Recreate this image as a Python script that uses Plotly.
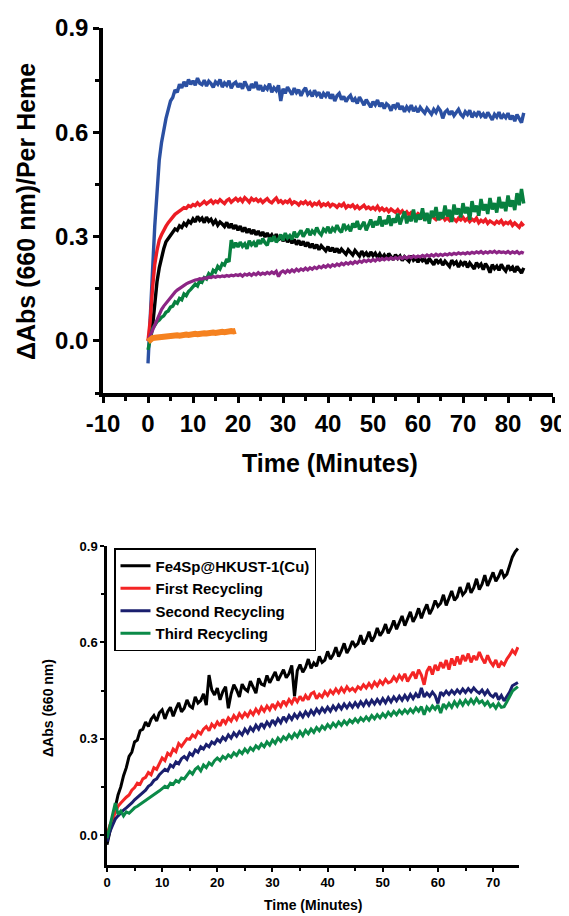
import plotly.graph_objects as go

# ---------------------------------------------------------------------------
# data read off the figure (sampled every 0.5 min)
# ---------------------------------------------------------------------------

STEP = 0.5

# top panel: dAbs (660 nm) per heme
top_blue = [
    -0.065, 0.05, 0.20, 0.33, 0.44, 0.52, 0.57, 0.61, 0.64, 0.665,
    0.69, 0.70, 0.722, 0.715, 0.738, 0.728, 0.745, 0.732, 0.752, 0.738,
    0.748, 0.735, 0.756, 0.741, 0.737, 0.75, 0.733, 0.747, 0.74, 0.729,
    0.745, 0.738, 0.752, 0.73, 0.742, 0.735, 0.748, 0.727, 0.739, 0.744,
    0.73, 0.741, 0.725, 0.746, 0.733, 0.72, 0.739, 0.728, 0.745, 0.722,
    0.735, 0.718, 0.731, 0.724, 0.74, 0.715, 0.728, 0.72, 0.735, 0.69,
    0.725, 0.712, 0.73, 0.718, 0.708, 0.727, 0.714, 0.722, 0.705, 0.719,
    0.728, 0.709, 0.716, 0.703, 0.721, 0.707, 0.715, 0.698, 0.712, 0.704,
    0.716, 0.697, 0.709, 0.69, 0.705, 0.712, 0.694, 0.703, 0.688, 0.699,
    0.706, 0.689, 0.697, 0.683, 0.701, 0.69, 0.678, 0.694, 0.684, 0.672,
    0.688, 0.679, 0.693, 0.674, 0.685, 0.668, 0.682, 0.676, 0.662, 0.679,
    0.671, 0.684, 0.666, 0.675, 0.659, 0.673, 0.664, 0.678, 0.661, 0.67,
    0.658, 0.672, 0.663, 0.655, 0.669, 0.66, 0.652, 0.666, 0.657, 0.671,
    0.662, 0.64, 0.658, 0.664, 0.651, 0.661, 0.648, 0.657, 0.666, 0.652,
    0.645, 0.659, 0.651, 0.663, 0.643, 0.655, 0.648, 0.66, 0.646, 0.653,
    0.641, 0.657, 0.647, 0.636, 0.652, 0.644, 0.658, 0.639, 0.65, 0.642,
    0.655, 0.637, 0.648, 0.632, 0.651, 0.64, 0.628, 0.656,
]
top_red = [
    0.0, 0.06, 0.15, 0.22, 0.26, 0.29, 0.305, 0.32, 0.33, 0.34,
    0.35, 0.356, 0.364, 0.368, 0.374, 0.378, 0.383, 0.381, 0.389, 0.386,
    0.392, 0.389, 0.397, 0.39, 0.395, 0.401, 0.394, 0.399, 0.404, 0.396,
    0.402, 0.398, 0.406, 0.4, 0.395, 0.404, 0.408, 0.399, 0.405, 0.41,
    0.403, 0.409, 0.401, 0.412, 0.406, 0.399, 0.41, 0.404, 0.408, 0.401,
    0.406, 0.398, 0.404, 0.409, 0.401, 0.397, 0.405, 0.411, 0.399, 0.403,
    0.396, 0.402, 0.398, 0.405, 0.394, 0.4, 0.397, 0.391, 0.399, 0.395,
    0.401, 0.393, 0.398, 0.389, 0.396, 0.392, 0.399, 0.388, 0.394, 0.39,
    0.396, 0.387, 0.393, 0.39, 0.384, 0.392, 0.388, 0.395, 0.383, 0.389,
    0.386, 0.391, 0.382, 0.388, 0.38, 0.386, 0.39, 0.381, 0.385, 0.379,
    0.384, 0.378, 0.387, 0.376, 0.382, 0.375, 0.38, 0.372, 0.379, 0.374,
    0.37, 0.377, 0.368, 0.374, 0.365, 0.371, 0.362, 0.369, 0.364, 0.358,
    0.366, 0.36, 0.356, 0.363, 0.357, 0.352, 0.36, 0.355, 0.349, 0.357,
    0.352, 0.358, 0.348, 0.354, 0.347, 0.356, 0.351, 0.344, 0.353, 0.348,
    0.355, 0.346, 0.352, 0.343, 0.35, 0.345, 0.353, 0.34, 0.347, 0.342,
    0.349, 0.338, 0.345, 0.34, 0.336, 0.344, 0.339, 0.346, 0.335, 0.341,
    0.337, 0.343, 0.332, 0.339, 0.334, 0.327, 0.338, 0.331,
]
top_black = [
    0.0, 0.01, 0.04, 0.11, 0.17, 0.21, 0.24, 0.265, 0.285, 0.295,
    0.305, 0.312, 0.322, 0.318, 0.331, 0.326, 0.338, 0.332, 0.345, 0.339,
    0.351, 0.342, 0.358, 0.347, 0.353, 0.34, 0.356, 0.344, 0.35, 0.337,
    0.346, 0.333, 0.342, 0.336, 0.329, 0.341, 0.325, 0.337, 0.322, 0.333,
    0.318, 0.33, 0.314, 0.326, 0.311, 0.322, 0.308, 0.319, 0.305, 0.316,
    0.302, 0.313, 0.299, 0.31, 0.297, 0.305, 0.293, 0.307, 0.29, 0.301,
    0.287, 0.298, 0.284, 0.294, 0.281, 0.292, 0.277, 0.289, 0.275, 0.286,
    0.272, 0.283, 0.268, 0.279, 0.266, 0.277, 0.262, 0.274, 0.265, 0.259,
    0.271, 0.258, 0.268, 0.255, 0.266, 0.253, 0.264, 0.257, 0.249, 0.262,
    0.254, 0.247, 0.26, 0.251, 0.244, 0.258, 0.246, 0.253, 0.242, 0.256,
    0.245, 0.252, 0.24, 0.25, 0.238, 0.247, 0.236, 0.251, 0.24, 0.233,
    0.248, 0.237, 0.244, 0.231, 0.242, 0.235, 0.229, 0.245, 0.232, 0.238,
    0.226, 0.24, 0.23, 0.235, 0.222, 0.237, 0.228, 0.219, 0.234, 0.225,
    0.231, 0.218, 0.229, 0.223, 0.214, 0.232, 0.221, 0.227, 0.212, 0.226,
    0.219, 0.228, 0.211, 0.224, 0.216, 0.207, 0.225, 0.214, 0.221, 0.205,
    0.222, 0.212, 0.196, 0.219, 0.208, 0.215, 0.203, 0.22, 0.209, 0.201,
    0.217, 0.206, 0.212, 0.198, 0.214, 0.203, 0.195, 0.21,
]
top_green = [
    -0.026, 0.01, 0.035, 0.045, 0.055, 0.06, 0.068, 0.072, 0.082, 0.086,
    0.097, 0.1, 0.112, 0.108, 0.122, 0.118, 0.135, 0.13, 0.142, 0.148,
    0.155, 0.163, 0.158, 0.174, 0.169, 0.182, 0.178, 0.193, 0.186, 0.203,
    0.198, 0.214, 0.207, 0.222, 0.218, 0.235, 0.227, 0.29, 0.268, 0.282,
    0.27, 0.284, 0.272, 0.279, 0.265, 0.288, 0.276, 0.283, 0.271, 0.29,
    0.279, 0.294, 0.282, 0.275, 0.297, 0.286, 0.301, 0.284, 0.292, 0.306,
    0.289, 0.31, 0.296, 0.303, 0.292, 0.314, 0.298, 0.307, 0.318, 0.3,
    0.311, 0.322, 0.304, 0.316, 0.309, 0.326, 0.312, 0.305, 0.321, 0.315,
    0.328, 0.31, 0.324, 0.317, 0.333, 0.319, 0.312, 0.336, 0.322, 0.329,
    0.315, 0.338, 0.326, 0.345, 0.321, 0.333, 0.342, 0.318, 0.337, 0.349,
    0.326, 0.344, 0.333, 0.358, 0.329, 0.347, 0.336, 0.361, 0.331, 0.352,
    0.34, 0.366, 0.335, 0.355, 0.372, 0.338, 0.359, 0.344, 0.378, 0.341,
    0.363, 0.349, 0.381, 0.345, 0.368, 0.337, 0.374, 0.356, 0.385, 0.347,
    0.37, 0.352, 0.389, 0.358, 0.377, 0.342, 0.392, 0.364, 0.381, 0.355,
    0.396, 0.367, 0.385, 0.348, 0.402, 0.371, 0.389, 0.36, 0.408, 0.375,
    0.393, 0.365, 0.411, 0.378, 0.396, 0.369, 0.414, 0.382, 0.399, 0.373,
    0.418, 0.386, 0.404, 0.376, 0.425, 0.39, 0.437, 0.395,
]
top_purple = [
    0.0, 0.015, 0.035, 0.05, 0.065, 0.078, 0.09, 0.1, 0.108, 0.118,
    0.126, 0.133, 0.14, 0.146, 0.151, 0.156, 0.16, 0.164, 0.167, 0.17,
    0.172, 0.175, 0.176, 0.179, 0.178, 0.181, 0.18, 0.183, 0.182, 0.185,
    0.183, 0.186, 0.184, 0.187, 0.185, 0.188, 0.186, 0.189, 0.187, 0.19,
    0.188, 0.191, 0.186, 0.192, 0.189, 0.193, 0.188, 0.194, 0.19, 0.196,
    0.191, 0.195, 0.192, 0.197, 0.193, 0.198, 0.194, 0.2, 0.185, 0.197,
    0.201, 0.196, 0.203, 0.198, 0.204, 0.199, 0.206, 0.201, 0.207, 0.203,
    0.209, 0.204, 0.21, 0.206, 0.212, 0.208, 0.214, 0.21, 0.216, 0.212,
    0.218, 0.213, 0.219, 0.215, 0.221, 0.217, 0.223, 0.219, 0.225, 0.221,
    0.226, 0.222, 0.228, 0.224, 0.23, 0.226, 0.232, 0.228, 0.233, 0.229,
    0.234, 0.23, 0.236, 0.232, 0.237, 0.233, 0.238, 0.234, 0.239, 0.235,
    0.24, 0.236, 0.241, 0.237, 0.242, 0.238, 0.243, 0.239, 0.244, 0.24,
    0.244, 0.241, 0.246, 0.242, 0.247, 0.243, 0.248, 0.244, 0.249, 0.245,
    0.249, 0.246, 0.25, 0.247, 0.251, 0.248, 0.252, 0.249, 0.253, 0.25,
    0.253, 0.25, 0.254, 0.251, 0.255, 0.252, 0.256, 0.253, 0.257, 0.252,
    0.256, 0.253, 0.257, 0.254, 0.258, 0.253, 0.257, 0.254, 0.256, 0.253,
    0.257, 0.252, 0.256, 0.253, 0.257, 0.251, 0.255, 0.252,
]
top_orange = [
    -0.002, 0.005, 0.008, 0.009, 0.01, 0.011, 0.01, 0.012, 0.013, 0.012,
    0.014, 0.013, 0.015, 0.016, 0.015, 0.017, 0.016, 0.018, 0.017, 0.019,
    0.018, 0.02, 0.019, 0.021, 0.02, 0.022, 0.021, 0.023, 0.022, 0.024,
    0.023, 0.025, 0.024, 0.026, 0.025, 0.027, 0.026, 0.028, 0.027, 0.029,
]

# bottom panel: dAbs (660 nm), catalyst recycling
bot_names = ["Fe4Sp@HKUST-1(Cu)", "First Recycling", "Second Recycling", "Third Recycling"]
bot_fresh = [
    -0.03, 0.01, 0.05, 0.085, 0.125, 0.15, 0.185, 0.21, 0.245, 0.258,
    0.29, 0.296, 0.325, 0.33, 0.352, 0.338, 0.361, 0.372, 0.355, 0.381,
    0.39, 0.362, 0.384, 0.398, 0.37, 0.393, 0.412, 0.384, 0.395, 0.421,
    0.402, 0.396, 0.43, 0.411, 0.419, 0.44, 0.405, 0.498, 0.452, 0.436,
    0.458, 0.421, 0.447, 0.462, 0.395, 0.44, 0.468, 0.452, 0.43, 0.47,
    0.455, 0.448, 0.479, 0.461, 0.442, 0.488, 0.47, 0.466, 0.497, 0.474,
    0.49, 0.508, 0.481, 0.497, 0.515, 0.49, 0.503, 0.528, 0.432, 0.512,
    0.531, 0.507, 0.522, 0.548, 0.519, 0.536, 0.526, 0.556, 0.538, 0.545,
    0.572, 0.548, 0.561, 0.585, 0.556, 0.574, 0.597, 0.567, 0.582, 0.604,
    0.588, 0.596, 0.622, 0.594, 0.609, 0.633, 0.603, 0.618, 0.645, 0.621,
    0.634, 0.657, 0.628, 0.645, 0.668, 0.641, 0.66, 0.682, 0.652, 0.671,
    0.695, 0.664, 0.681, 0.706, 0.675, 0.699, 0.718, 0.688, 0.705, 0.73,
    0.712, 0.722, 0.748, 0.715, 0.737, 0.76, 0.731, 0.742, 0.772, 0.748,
    0.758, 0.785, 0.754, 0.77, 0.798, 0.764, 0.781, 0.809, 0.776, 0.795,
    0.818, 0.79, 0.805, 0.826, 0.803, 0.812, 0.842, 0.866, 0.882, 0.892,
]
bot_first = [
    0.0, 0.03, 0.05, 0.07, 0.09, 0.1, 0.11, 0.118, 0.125, 0.14,
    0.148, 0.162, 0.158, 0.175, 0.18, 0.195, 0.188, 0.21, 0.205, 0.225,
    0.24, 0.232, 0.255, 0.248, 0.268, 0.26, 0.285, 0.276, 0.29, 0.3,
    0.298, 0.312, 0.305, 0.322, 0.315, 0.33, 0.338, 0.325, 0.345, 0.336,
    0.352, 0.34, 0.36, 0.348, 0.365, 0.355, 0.372, 0.36, 0.378, 0.366,
    0.38, 0.37, 0.386, 0.375, 0.392, 0.38, 0.398, 0.386, 0.402, 0.39,
    0.408, 0.395, 0.412, 0.4, 0.418, 0.405, 0.422, 0.41, 0.428, 0.415,
    0.432, 0.418, 0.435, 0.422, 0.44, 0.445, 0.425, 0.438, 0.43, 0.446,
    0.435, 0.45, 0.44, 0.455, 0.443, 0.458, 0.446, 0.462, 0.45, 0.457,
    0.448, 0.462, 0.455, 0.468, 0.458, 0.472, 0.46, 0.476, 0.465, 0.48,
    0.47, 0.485, 0.474, 0.478, 0.492, 0.48, 0.497, 0.485, 0.502, 0.478,
    0.494, 0.508, 0.487, 0.515, 0.498, 0.468, 0.51, 0.525, 0.5, 0.53,
    0.512, 0.538, 0.52, 0.545, 0.515, 0.55, 0.528, 0.556, 0.532, 0.56,
    0.542, 0.565, 0.538, 0.558, 0.545, 0.57, 0.55, 0.535, 0.56, 0.54,
    0.528, 0.545, 0.522, 0.538, 0.53, 0.548, 0.56, 0.575, 0.565, 0.585,
]
bot_second = [
    -0.02, 0.01, 0.03, 0.05, 0.06, 0.07, 0.078, 0.085, 0.092, 0.1,
    0.11, 0.118, 0.125, 0.135, 0.14, 0.152, 0.158, 0.17, 0.175, 0.188,
    0.195, 0.205, 0.2, 0.218, 0.212, 0.228, 0.222, 0.238, 0.245, 0.236,
    0.255, 0.248, 0.265, 0.258, 0.275, 0.268, 0.282, 0.275, 0.29, 0.284,
    0.298, 0.29, 0.305, 0.296, 0.312, 0.302, 0.318, 0.308, 0.322, 0.312,
    0.33, 0.318, 0.335, 0.325, 0.342, 0.33, 0.348, 0.335, 0.352, 0.34,
    0.358, 0.345, 0.362, 0.35, 0.368, 0.355, 0.372, 0.36, 0.376, 0.365,
    0.38, 0.368, 0.384, 0.372, 0.388, 0.376, 0.392, 0.38, 0.395, 0.384,
    0.398, 0.386, 0.402, 0.39, 0.405, 0.393, 0.408, 0.396, 0.41, 0.398,
    0.412, 0.4, 0.415, 0.403, 0.418, 0.405, 0.42, 0.408, 0.422, 0.41,
    0.425, 0.412, 0.428, 0.415, 0.43, 0.418, 0.432, 0.42, 0.435, 0.422,
    0.438, 0.425, 0.44, 0.428, 0.458, 0.43, 0.442, 0.432, 0.445, 0.434,
    0.41, 0.445, 0.436, 0.448, 0.438, 0.45, 0.44, 0.452, 0.442, 0.455,
    0.444, 0.456, 0.446, 0.458, 0.448, 0.442, 0.452, 0.438, 0.45, 0.436,
    0.43, 0.442, 0.422, 0.435, 0.418, 0.432, 0.445, 0.465, 0.47, 0.475,
]
bot_third = [
    -0.01, 0.03, 0.06, 0.1, 0.065, 0.075, 0.06, 0.072, 0.068, 0.078,
    0.085, 0.09, 0.096, 0.1, 0.108, 0.112, 0.118, 0.125, 0.13, 0.138,
    0.145, 0.152, 0.148, 0.162, 0.158, 0.17, 0.165, 0.178, 0.175, 0.186,
    0.198, 0.19, 0.205, 0.212, 0.2, 0.218, 0.21, 0.225, 0.218, 0.232,
    0.24, 0.232, 0.245, 0.238, 0.25, 0.243, 0.256, 0.248, 0.262, 0.254,
    0.268, 0.258, 0.272, 0.264, 0.278, 0.27, 0.284, 0.275, 0.29, 0.28,
    0.296, 0.286, 0.302, 0.292, 0.306, 0.298, 0.312, 0.302, 0.316, 0.306,
    0.322, 0.31, 0.326, 0.316, 0.33, 0.32, 0.335, 0.325, 0.339, 0.33,
    0.344, 0.334, 0.348, 0.338, 0.352, 0.342, 0.355, 0.345, 0.358, 0.35,
    0.362, 0.352, 0.365, 0.356, 0.368, 0.358, 0.372, 0.362, 0.375, 0.365,
    0.378, 0.368, 0.382, 0.372, 0.385, 0.375, 0.388, 0.378, 0.39, 0.38,
    0.392, 0.382, 0.396, 0.386, 0.4, 0.375, 0.398, 0.388, 0.402, 0.392,
    0.405, 0.38, 0.408, 0.396, 0.41, 0.398, 0.415, 0.402, 0.418, 0.405,
    0.42, 0.408, 0.422, 0.41, 0.425, 0.412, 0.418, 0.405, 0.415, 0.4,
    0.408, 0.395, 0.41, 0.398, 0.4, 0.415, 0.43, 0.448, 0.455, 0.462,
]

# ---------------------------------------------------------------------------

FONT = "Liberation Sans"
PAGE_PAD = 8  # the html body adds an 8px margin, so the figure is shrunk by that
W, H = 569 - PAGE_PAD, 916 - PAGE_PAD


def px_x(p):
    # screen pixel -> paper fraction
    return (p - PAGE_PAD) / W


def px_y(p):
    return 1 - (p - PAGE_PAD) / H


def times(values):
    return [i * STEP for i in range(len(values))]


fig = go.Figure()

# TOP PANEL
top_series = [
    (top_blue, "#2b50a2", 3.4),
    (top_black, "#000000", 3.4),
    (top_red, "#ec1c24", 3.4),
    (top_green, "#07803f", 3.4),
    (top_purple, "#8c2585", 3.2),
    (top_orange, "#f58220", 6),
]
for vals, color, width in top_series:
    fig.add_trace(go.Scatter(
        x=times(vals), y=vals, mode="lines",
        line=dict(color=color, width=width),
        showlegend=False, xaxis="x", yaxis="y",
    ))

# BOTTOM PANEL
bot_colors = ["#000000", "#f42525", "#1a1f6e", "#0b8a48"]
for name, vals, color in zip(bot_names, [bot_fresh, bot_first, bot_second, bot_third], bot_colors):
    fig.add_trace(go.Scatter(
        x=times(vals), y=vals, mode="lines", name=name,
        line=dict(color=color, width=3),
        xaxis="x2", yaxis="y2",
    ))

big_tick = dict(family=FONT, size=24, color="black", weight="bold")
small_tick = dict(family=FONT, size=13, color="black", weight="bold")
top_x_ticks = list(range(-10, 91, 10))
y_ticks = [0.0, 0.3, 0.6, 0.9]

fig.update_layout(
    width=W, height=H, autosize=False,
    margin=dict(l=0, r=0, t=0, b=0, autoexpand=False),
    paper_bgcolor="white", plot_bgcolor="white",
    showlegend=True,
    # top panel axes
    xaxis=dict(
        domain=[px_x(103), px_x(553)], range=[-10, 90], automargin=False,
        tickmode="array", tickvals=top_x_ticks, ticktext=[str(v) for v in top_x_ticks],
        ticklabeloverflow="allow",
        showline=True, linecolor="black", linewidth=3.5,
        ticks="outside", ticklen=6, tickwidth=3, tickcolor="black",
        minor=dict(dtick=5, tick0=0, ticks="outside", ticklen=4, tickwidth=3, tickcolor="black"),
        tickfont=big_tick, showgrid=False, zeroline=False, anchor="y",
    ),
    yaxis=dict(
        domain=[px_y(393), px_y(28)], range=[-0.15, 0.9], automargin=False,
        tickmode="array", tickvals=y_ticks, ticktext=["%.1f" % v for v in y_ticks],
        showline=True, linecolor="black", linewidth=3.5,
        ticks="outside", ticklen=6, tickwidth=3, tickcolor="black",
        minor=dict(dtick=0.15, tick0=0, ticks="outside", ticklen=4, tickwidth=3, tickcolor="black"),
        tickfont=big_tick, showgrid=False, zeroline=False, anchor="x",
    ),
    # bottom panel axes
    xaxis2=dict(
        domain=[px_x(107), px_x(519)], range=[0, 74.7], automargin=False,
        tickmode="array", tickvals=list(range(0, 71, 10)),
        showline=True, linecolor="black", linewidth=2.5,
        ticks="outside", ticklen=4, tickwidth=2, tickcolor="black",
        minor=dict(dtick=5, tick0=0, ticks="outside", ticklen=3, tickwidth=2, tickcolor="black"),
        tickfont=small_tick, showgrid=False, zeroline=False, anchor="y2",
    ),
    yaxis2=dict(
        domain=[px_y(865), px_y(546)], range=[-0.093, 0.9], automargin=False,
        tickmode="array", tickvals=y_ticks, ticktext=["%.1f" % v for v in y_ticks],
        showline=True, linecolor="black", linewidth=2.5,
        ticks="outside", ticklen=4, tickwidth=2, tickcolor="black",
        minor=dict(dtick=0.15, tick0=0, ticks="outside", ticklen=3, tickwidth=2, tickcolor="black"),
        tickfont=small_tick, showgrid=False, zeroline=False, anchor="x2",
    ),
    legend=dict(
        x=px_x(114), y=px_y(548), xanchor="left", yanchor="top",
        bgcolor="white", bordercolor="black", borderwidth=1.5,
        font=dict(family=FONT, size=15, color="black", weight="bold"),
        tracegroupgap=0, itemwidth=30,
    ),
)

# axis titles placed as annotations so they land where the original has them
titles = [
    ("Time (Minutes)", 330, 463, 0, 25),
    ("\u0394Abs (660 nm)/Per Heme", 26, 212, -90, 25),
    ("Time (Minutes)", 313, 905, 0, 14),
    ("\u0394Abs (660 nm)", 48, 708, -90, 14),
]
for text, px, py, angle, size in titles:
    fig.add_annotation(
        text=text, x=px_x(px), y=px_y(py), xref="paper", yref="paper",
        xanchor="center", yanchor="middle", textangle=angle, showarrow=False,
        font=dict(family=FONT, size=size, color="black", weight="bold"),
    )

fig.write_html("out.html")
